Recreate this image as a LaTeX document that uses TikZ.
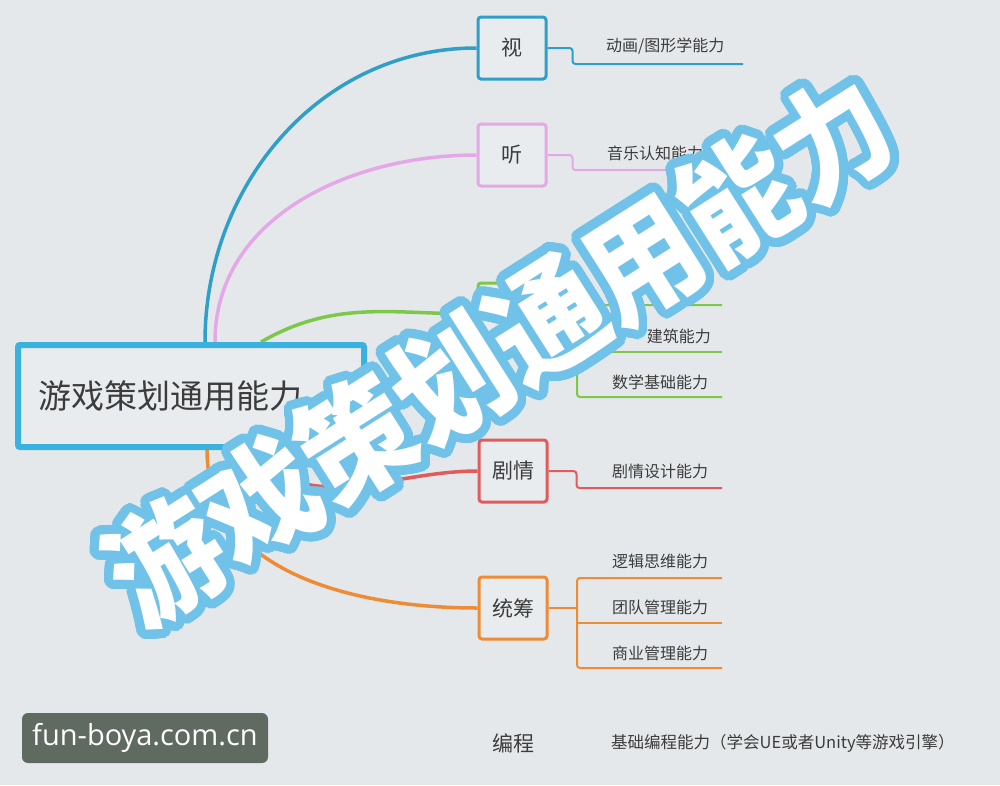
\documentclass[tikz,border=0pt]{standalone}
\usepackage{fontspec}
\setmainfont{Noto Sans CJK SC}
\newfontfamily\urlfont{Open Sans}
\usepackage{contour}
\contourlength{8.5pt}
\contournumber{48}
\definecolor{bg}{HTML}{E5E8EA}
\definecolor{boxfill}{HTML}{E9ECEE}
\definecolor{txt}{HTML}{3C3C3C}
\definecolor{cmain}{HTML}{3AB2E0}
\definecolor{cvis}{HTML}{2E9FC8}
\definecolor{cting}{HTML}{E4A8E6}
\definecolor{cgreen}{HTML}{7DC84A}
\definecolor{cred}{HTML}{E05C5C}
\definecolor{corange}{HTML}{EE8C36}
\definecolor{wmblue}{HTML}{70C2E8}
\definecolor{urlbox}{HTML}{5F6B60}
\tikzset{
  topic/.style={draw, line width=3, rounded corners=3, fill=boxfill, minimum width=68,
    minimum height=62, inner sep=0, text=txt, font=\fontsize{21}{21}\selectfont},
  leaf/.style={anchor=west, inner sep=0, text=txt, font=\fontsize{16}{16}\selectfont},
  branch/.style={line width=3.5},
  twig/.style={line width=2, rounded corners=3},
}

\begin{document}
\begin{tikzpicture}[x=1pt,y=-1pt]
	\fill[bg] (0,0) rectangle (1000,785);
	\useasboundingbox (0,0) rectangle (1000,785);
	% topics
	\node[topic, draw=cvis] (vis) at (512,48) {视};
	\node[topic, draw=cting] (ting) at (512,155) {听};
	\node[topic, draw=cgreen] (kj) at (512,314) {};
	\node[topic, draw=cred] (jq) at (513,471) {剧情};
	\node[topic, draw=corange] (tc) at (513,608) {统筹};
	\node[text=txt, font=\fontsize{21}{21}\selectfont] (bc) at (513,743) {编程};
	% branches from the central topic
	\coordinate (top) at (191,342);
	\coordinate (bot) at (191,450);
	\draw[branch, cvis] ([xshift=14]top) to[out=90, in=180] (vis.west);
	\draw[branch, cting] ([xshift=24]top) to[out=90, in=180] (ting.west);
	\draw[branch, cgreen] ([xshift=70]top) to[out=30, in=180] (kj.west);
	\draw[branch, cred] ([xshift=60]bot) to[out=-50, in=180] (jq.west);
	\draw[branch, corange] ([xshift=16]bot) to[out=-90, in=180] (tc.west);
	\node[draw=cmain, line width=6, rounded corners=2, fill=boxfill, anchor=west,
		text width=306, align=left, inner xsep=20, minimum height=102, text=txt,
		font=\fontsize{33}{33}\selectfont] (main) at (15,396) {游戏策划通用能力};
	% sub topics
	\coordinate (v1) at (743,64);
	\draw[twig, cvis] (vis.east) -- ++(25,0) |- (v1);
	\node[leaf] (lv1) at (606,46) {动画/图形学能力};
	\coordinate (t1) at (720,170);
	\draw[twig, cting] (ting.east) -- ++(25,0) |- (t1);
	\node[leaf] (lt1) at (607,153) {音乐认知能力};
	\coordinate (k1) at (722,305);
	\coordinate (k2) at (722,352);
	\coordinate (k3) at (722,397);
	\draw[twig, cgreen] (kj.east) -- (577,314);
	\draw[twig, cgreen] (k1) -| (577,397) -- (k3);
	\draw[twig, cgreen] (577,352) -- (k2);
	\node[leaf, anchor=east] (lk2) at (711,336) {建筑能力};
	\node[leaf] (lk3) at (612,382) {数学基础能力};
	\coordinate (j1) at (722,488);
	\draw[twig, cred] (jq.east) -- ++(28,0) |- (j1);
	\node[leaf] (lj1) at (612,471) {剧情设计能力};
	\coordinate (c1) at (722,578);
	\coordinate (c2) at (722,623);
	\coordinate (c3) at (722,668);
	\draw[twig, corange] (tc.east) -- (577,608);
	\draw[twig, corange] (c1) -| (577,668) -- (c3);
	\draw[twig, corange] (577,623) -- (c2);
	\node[leaf] (lc1) at (612,561) {逻辑思维能力};
	\node[leaf] (lc2) at (612,607) {团队管理能力};
	\node[leaf] (lc3) at (612,653) {商业管理能力};
	\node[leaf, font=\fontsize{16.5}{16.5}\selectfont] (lb1) at (611,743) {基础编程能力（学会UE或者Unity等游戏引擎）};
	% watermark
	\node[rotate=32.4, inner sep=0, font=\fontsize{113}{113}\selectfont\bfseries] (wm) at (501,353)
		{\scalebox{1}[1.08]{\contour{wmblue}{\textcolor{white}{游戏策划通用能力}}}};
	\node[fill=urlbox, rounded corners=6, minimum width=246, minimum height=50, text=white,
		font=\urlfont\fontsize{29}{29}\selectfont] (url) at (145,738) {fun-boya.com.cn};
\end{tikzpicture}
\end{document}
